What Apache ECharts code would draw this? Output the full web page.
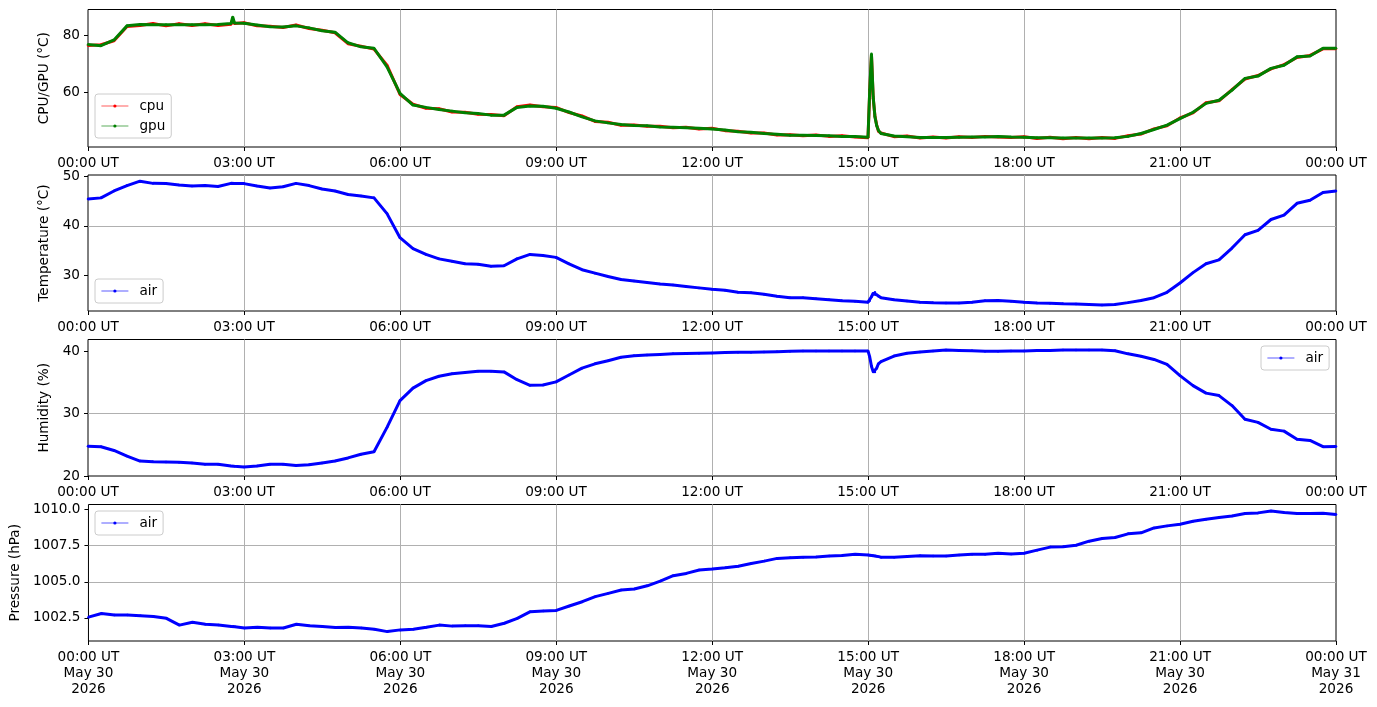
<!DOCTYPE html>
<html>
<head>
<meta charset="utf-8">
<script src="https://cdn.jsdelivr.net/npm/echarts@6/dist/echarts.min.js"></script>
<style>
  html, body { margin: 0; padding: 0; background: #fff; }
  #main { width: 1377px; height: 707px; }
</style>
</head>
<body>
<div id="main"></div>
<script>
// sample times (UT), 15 min steps plus a few extra around short events
var times = [
  '00:00','00:15','00:30','00:45',
  '01:00','01:15','01:30','01:45',
  '02:00','02:15','02:30','02:45','02:47','02:49',
  '03:00','03:15','03:30','03:45',
  '04:00','04:15','04:30','04:45',
  '05:00','05:15','05:30','05:45',
  '06:00','06:15','06:30','06:45',
  '07:00','07:15','07:30','07:45',
  '08:00','08:15','08:30','08:45',
  '09:00','09:15','09:30','09:45',
  '10:00','10:15','10:30','10:45',
  '11:00','11:15','11:30','11:45',
  '12:00','12:15','12:30','12:45',
  '13:00','13:15','13:30','13:45',
  '14:00','14:15','14:30','14:45',
  '15:00','15:02','15:04','15:06','15:08','15:10','15:12','15:15','15:30','15:45',
  '16:00','16:15','16:30','16:45',
  '17:00','17:15','17:30','17:45',
  '18:00','18:15','18:30','18:45',
  '19:00','19:15','19:30','19:45',
  '20:00','20:15','20:30','20:45',
  '21:00','21:15','21:30','21:45',
  '22:00','22:15','22:30','22:45',
  '23:00','23:15','23:30','23:45',
  '24:00'
];

var cpu = [
  76.4, 76.6, 78.0, 83.0,
  83.3, 84.0, 83.2, 83.9,
  83.3, 83.9, 83.3, 83.8, 85.5, 84.0,
  84.3, 83.2, 83.1, 82.6,
  83.5, 82.3, 81.7, 80.8,
  77.0, 76.1, 75.1, 69.5,
  59.3, 55.9, 54.5, 54.3,
  53.2, 53.1, 52.4, 52.3,
  51.9, 55.0, 55.6, 55.0,
  54.8, 53.0, 51.8, 49.9,
  49.6, 48.6, 48.7, 48.2,
  48.2, 47.7, 47.9, 47.3,
  47.5, 46.7, 46.5, 45.9,
  45.9, 45.2, 45.3, 44.9,
  45.2, 44.7, 44.9, 44.5,
  44.2, 60.5, 73.0, 58.0, 51.8, 48.7, 46.5, 45.9, 44.6, 44.8,
  44.1, 44.5, 44.1, 44.6,
  44.3, 44.7, 44.5, 44.3,
  44.6, 44.0, 44.4, 43.9,
  44.3, 43.9, 44.3, 44.0,
  44.9, 45.5, 47.3, 48.4,
  51.1, 52.9, 56.4, 57.1,
  61.0, 64.7, 65.9, 68.2,
  69.7, 72.2, 72.9, 75.2,
  75.2
];

var gpu = [
  76.7, 76.3, 78.3, 83.2,
  83.7, 83.6, 83.6, 83.6,
  83.6, 83.6, 83.7, 84.0, 86.3, 84.2,
  84.1, 83.5, 82.9, 82.8,
  83.2, 82.5, 81.5, 81.0,
  77.3, 75.9, 75.4, 68.9,
  59.7, 55.6, 54.8, 54.1,
  53.5, 52.9, 52.7, 52.1,
  52.1, 54.8, 55.3, 55.2,
  54.5, 53.2, 51.5, 50.1,
  49.4, 48.8, 48.5, 48.4,
  48.0, 47.9, 47.7, 47.5,
  47.3, 46.9, 46.3, 46.1,
  45.7, 45.4, 45.1, 45.1,
  45.0, 44.9, 44.7, 44.7,
  44.4, 61.0, 73.5, 58.5, 51.5, 48.5, 46.8, 45.7, 44.8, 44.6,
  44.3, 44.3, 44.3, 44.4,
  44.5, 44.5, 44.7, 44.5,
  44.4, 44.2, 44.2, 44.1,
  44.1, 44.1, 44.1, 44.2,
  44.7, 45.7, 47.1, 48.6,
  50.9, 53.1, 56.2, 57.3,
  60.8, 64.9, 65.7, 68.4,
  69.5, 72.4, 72.7, 75.4,
  75.4
];

var airTemp = [
  45.45, 45.7, 47.1, 48.2,
  49.1, 48.65, 48.6, 48.3,
  48.1, 48.2, 48.0, 48.65, 48.65, 48.6,
  48.6, 48.1, 47.7, 47.95,
  48.65, 48.2, 47.5, 47.1,
  46.4, 46.1, 45.7, 42.5,
  37.6, 35.4, 34.2, 33.3,
  32.8, 32.3, 32.2, 31.8,
  31.9, 33.3, 34.2, 34.0,
  33.6, 32.3, 31.1, 30.4,
  29.7, 29.1, 28.8, 28.5,
  28.2, 28.0, 27.7, 27.4,
  27.1, 26.9, 26.5, 26.4,
  26.1, 25.7, 25.4, 25.4,
  25.2, 25.0, 24.8, 24.7,
  24.5, 24.8, 25.6, 26.3, 26.5, 26.0, 25.7, 25.4, 25.0, 24.75,
  24.5, 24.4, 24.35, 24.35,
  24.5, 24.8, 24.85, 24.7,
  24.5, 24.35, 24.3, 24.15,
  24.1, 24.0, 23.9, 24.0,
  24.4, 24.85, 25.4, 26.5,
  28.4, 30.5, 32.3, 33.1,
  35.5, 38.2, 39.1, 41.3,
  42.2, 44.6, 45.2, 46.8,
  47.1
];

var airHum = [
  24.76, 24.7, 24.1, 23.2,
  22.4, 22.3, 22.25, 22.2,
  22.1, 21.9, 21.9, 21.6, 21.6, 21.55,
  21.45, 21.6, 21.9, 21.9,
  21.7, 21.8, 22.1, 22.4,
  22.9, 23.5, 23.9, 27.8,
  32.1, 34.1, 35.3, 36.0,
  36.4, 36.6, 36.8, 36.8,
  36.7, 35.45, 34.55, 34.6,
  35.1, 36.2, 37.3, 38.0,
  38.5, 39.05, 39.3, 39.4,
  39.5, 39.6, 39.65, 39.7,
  39.75, 39.8, 39.85, 39.85,
  39.9, 39.95, 40.0, 40.05,
  40.05, 40.05, 40.05, 40.05,
  40.05, 39.1, 37.6, 36.7, 36.7, 37.3, 38.0, 38.35, 39.25, 39.7,
  39.9, 40.05, 40.2, 40.15,
  40.1, 40.0, 40.0, 40.05,
  40.05, 40.15, 40.15, 40.2,
  40.2, 40.2, 40.2, 40.1,
  39.6, 39.2, 38.7, 37.9,
  36.1, 34.5, 33.3, 32.9,
  31.3, 29.1, 28.6, 27.5,
  27.2, 25.9, 25.7, 24.7,
  24.75
];

var airPres = [
  1002.55, 1002.8, 1002.7, 1002.7,
  1002.65, 1002.6, 1002.47, 1002.0,
  1002.2, 1002.06, 1002.0, 1001.9, 1001.92, 1001.88,
  1001.8, 1001.85, 1001.8, 1001.8,
  1002.06, 1001.95, 1001.9, 1001.83,
  1001.85, 1001.8, 1001.71, 1001.55,
  1001.67, 1001.71, 1001.85, 1002.0,
  1001.93, 1001.95, 1001.95, 1001.9,
  1002.13, 1002.47, 1002.93, 1002.98,
  1003.02, 1003.32, 1003.62, 1003.97,
  1004.2, 1004.43, 1004.5, 1004.72,
  1005.05, 1005.42, 1005.58, 1005.81,
  1005.88, 1005.97, 1006.08, 1006.27,
  1006.43, 1006.62, 1006.67, 1006.7,
  1006.72, 1006.78, 1006.82, 1006.9,
  1006.85, 1006.84, 1006.82, 1006.8, 1006.78, 1006.76, 1006.74, 1006.7, 1006.7, 1006.75,
  1006.8, 1006.78, 1006.78, 1006.85,
  1006.9, 1006.9, 1006.98, 1006.92,
  1006.98, 1007.19, 1007.4, 1007.42,
  1007.53, 1007.81, 1008.0, 1008.07,
  1008.32, 1008.39, 1008.73, 1008.87,
  1008.98, 1009.19, 1009.33, 1009.45,
  1009.56, 1009.72, 1009.77, 1009.9,
  1009.79, 1009.72, 1009.72, 1009.74,
  1009.65
];

// y tick labels per panel
var cpuTicks = [60, 80];
var tempTicks = [30, 40, 50];
var humTicks = [20, 30, 40];
var presTicks = [1002.5, 1005.0, 1007.5, 1010.0];
var dayLabels = ['May 30', 'May 31'];
var yearLabel = '2026';

var chart = echarts.init(document.getElementById('main'));

function toHours(s) {
  var p = s.split(':');
  return +p[0] + (+p[1]) / 60;
}
var hours = times.map(toHours);
function pairs(vals) {
  return vals.map(function (v, i) { return [hours[i], v]; });
}

var font = 'DejaVu Sans';
var fs = 13.6;

function hourLabel(v) {
  var h = Math.round(v) % 24;
  return (h < 10 ? '0' : '') + h + ':00 UT';
}

function xAxisFor(idx, withDate) {
  return {
    type: 'value', gridIndex: idx, min: 0, max: 24, interval: 3,
    axisLine: { show: false },
    axisTick: { show: true, length: 4, lineStyle: { color: '#000', width: 1 } },
    axisLabel: {
      color: '#000', fontFamily: font, fontSize: fs, margin: 8, lineHeight: 16,
      formatter: function (v) {
        if (!withDate) return hourLabel(v);
        return hourLabel(v) + '\n' + (v >= 24 ? dayLabels[1] : dayLabels[0]) + '\n' + yearLabel;
      }
    },
    splitLine: { show: true, showMinLine: false, showMaxLine: false,
                 lineStyle: { color: '#b0b0b0', width: 1 } }
  };
}

function yAxisFor(idx, min, max, ticks, name, gap, fmt) {
  return {
    type: 'value', gridIndex: idx, min: min, max: max,
    name: name, nameLocation: 'middle', nameGap: gap,
    nameTextStyle: { color: '#000', fontFamily: font, fontSize: fs },
    axisLine: { show: false },
    axisTick: { show: true, length: 4, customValues: ticks, lineStyle: { color: '#000', width: 1 } },
    axisLabel: { color: '#000', fontFamily: font, fontSize: fs, margin: 8, customValues: ticks,
                 formatter: fmt || function (v) { return String(v); } },
    splitLine: { show: true, showMinLine: false, showMaxLine: false,
                 lineStyle: { color: '#b0b0b0', width: 1 } }
  };
}

function gridAt(top, height) {
  return { left: 88, right: 41, top: top, height: height,
           show: true, borderColor: '#000', borderWidth: 1, backgroundColor: 'transparent' };
}

function legendAt(pos, names) {
  var base = {
    orient: 'vertical', data: names, selectedMode: false,
    backgroundColor: 'rgba(255,255,255,0.8)', borderColor: '#cccccc', borderWidth: 1, borderRadius: 3,
    padding: [5, 6, 5, 6], itemWidth: 27, itemHeight: 4, itemGap: 6,
    lineStyle: { width: 0.8, opacity: 0.8 },
    textStyle: { color: '#000', fontFamily: font, fontSize: fs, padding: [0, 0, 0, 6] }
  };
  for (var k in pos) base[k] = pos[k];
  return base;
}

function lineSeries(name, color, xi, vals, z) {
  return {
    name: name, type: 'line', xAxisIndex: xi, yAxisIndex: xi, data: pairs(vals),
    symbol: 'circle', symbolSize: 2.5, showAllSymbol: true, z: z,
    lineStyle: { color: color, width: 3 },
    itemStyle: { color: color, borderWidth: 0 },
    emphasis: { disabled: true }
  };
}

var option = {
  animation: false,
  backgroundColor: '#fff',
  grid: [
    gridAt(9.5, 137.5),
    gridAt(175, 136),
    gridAt(339.5, 136.5),
    gridAt(504.5, 136.5)
  ],
  xAxis: [
    xAxisFor(0, false),
    xAxisFor(1, false),
    xAxisFor(2, false),
    xAxisFor(3, true)
  ],
  yAxis: [
    yAxisFor(0, 41.0, 88.9, cpuTicks, 'CPU/GPU (°C)', 31),
    yAxisFor(1, 22.7, 50.35, tempTicks, 'Temperature (°C)', 34),
    yAxisFor(2, 20, 41.9, humTicks, 'Humidity (%)', 31),
    yAxisFor(3, 1000.9, 1010.35, presTicks, 'Pressure (hPa)', 65,
             function (v) { return v.toFixed(1); })
  ],
  legend: [
    legendAt({ left: 95, top: 94 }, ['cpu', 'gpu']),
    legendAt({ left: 95, top: 279 }, ['air']),
    legendAt({ left: 1261, top: 346 }, ['air']),
    legendAt({ left: 95, top: 511 }, ['air'])
  ],
  series: [
    lineSeries('cpu', '#ff0000', 0, cpu, 2),
    lineSeries('gpu', '#008000', 0, gpu, 3),
    lineSeries('air', '#0000ff', 1, airTemp, 2),
    lineSeries('air', '#0000ff', 2, airHum, 2),
    lineSeries('air', '#0000ff', 3, airPres, 2)
  ]
};

chart.setOption(option);
</script>
</body>
</html>
